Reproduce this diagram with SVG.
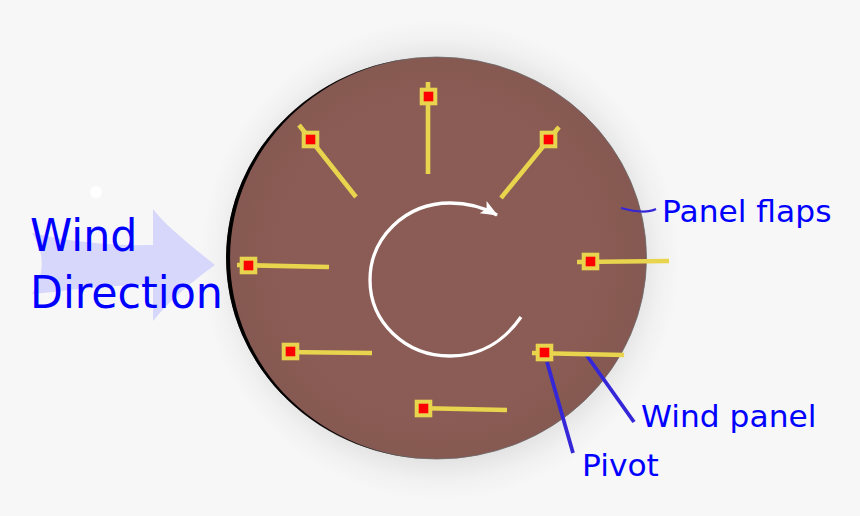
<svg xmlns="http://www.w3.org/2000/svg" width="860" height="516" viewBox="0 0 860 516">
<style>
.flap{fill:none;stroke:#e8d44d;stroke-width:4.600}
.pv{fill:#e8d44d;stroke:#e8d44d;stroke-width:.6}
.pc{fill:#f00;stroke:#f00;stroke-width:.6}
.lead{fill:none;stroke:#3526d8;stroke-width:3.800}
text{font-family:"DejaVu Sans",sans-serif;fill:#00f}
.lb{font-size:31px}
.big{font-size:44.400px}
</style>
<defs>
<radialGradient id="disc" gradientUnits="userSpaceOnUse" cx="436" cy="258" r="211">
<stop offset="0" stop-color="#8b5c55"/><stop offset=".75" stop-color="#8b5c55"/><stop offset=".92" stop-color="#865951"/><stop offset="1" stop-color="#855852"/>
</radialGradient>
<radialGradient id="halo" gradientUnits="userSpaceOnUse" cx="440" cy="260" r="240">
<stop offset=".82" stop-color="#e2e2e2"/><stop offset=".92" stop-color="#f1f1f1"/><stop offset="1" stop-color="#f7f7f7"/>
</radialGradient>
<marker id="ah" markerUnits="userSpaceOnUse" markerWidth="20" markerHeight="16" refX="16" refY="8" orient="auto"><path d="M0 1L17 8L0 15L4 8Z" fill="#fff"/></marker>
</defs>
<rect width="860" height="516" fill="#f7f7f7"/>
<circle cx="440" cy="260" r="240" fill="url(#halo)"/>
<circle cx="96" cy="192" r="6" fill="#fff"/>
<g id="wind-arrow"><path d="M32 233C70 242 115 246 153 245L153 209C165 225 190 245 215 265C190 283 168 302 153 321L153 285C115 284 70 290 32 294C45 275 45 252 32 233Z" fill="#d7d7fb"/></g>
<g id="disc-node">
<ellipse cx="436.500" cy="258" rx="210" ry="201" fill="url(#disc)" stroke="#6b6b6b" stroke-width=".8"/>
<path d="M437 57A211 201 0 0 0 437 459A207 201 0 0 1 437 57Z" fill="#000"/>
</g>
<g id="connectors">
<path d="M521 317C503 343 478 356 450 356C405 356 370 322 370 280C370 238 405 203 450 203C467 203 483 207 497 215" fill="none" stroke="#fff" stroke-width="3.300" marker-end="url(#ah)"/>
<path class="lead" style="stroke-width:2.200" d="M621 208C632 211 646 214 656 209"/>
<path class="lead" d="M585 353L634 422"/>
<path class="lead" d="M547 362L573 453"/>
</g>
<g id="flap-top"><path class="flap" d="M428 82V174"/><rect class="pv" x="420" y="88" width="17" height="17"/><rect class="pc" x="424" y="92" width="9" height="9"/></g>
<g id="flap-top-left"><path class="flap" d="M299 125L356 197"/><rect class="pv" x="302" y="131" width="17" height="17"/><rect class="pc" x="306" y="135" width="9" height="9"/></g>
<g id="flap-top-right"><path class="flap" d="M559 127L501 198"/><rect class="pv" x="540" y="131" width="17" height="17"/><rect class="pc" x="544" y="135" width="9" height="9"/></g>
<g id="flap-left"><path class="flap" d="M237 265L329 267"/><rect class="pv" x="240" y="257" width="17" height="17"/><rect class="pc" x="244" y="261" width="9" height="9"/></g>
<g id="flap-right"><path class="flap" d="M577 262L669 261"/><rect class="pv" x="582" y="253" width="17" height="17"/><rect class="pc" x="586" y="257" width="9" height="9"/></g>
<g id="flap-lower-left"><path class="flap" d="M282 352L372 353"/><rect class="pv" x="282" y="343" width="17" height="17"/><rect class="pc" x="286" y="347" width="9" height="9"/></g>
<g id="flap-lower-right"><path class="flap" d="M532 353L624 355"/><rect class="pv" x="536" y="344" width="17" height="17"/><rect class="pc" x="540" y="348" width="9" height="9"/></g>
<g id="flap-bottom"><path class="flap" d="M415 408L507 410"/><rect class="pv" x="415" y="400" width="17" height="17"/><rect class="pc" x="419" y="404" width="9" height="9"/></g>
<g id="labels">
<text class="big" transform="translate(30 251) scale(.962 1)">Wind</text>
<text class="big" transform="translate(30 308) scale(.962 1)">Direction</text>
<text class="lb" transform="translate(662 222) scale(1.01 1)">Panel flaps</text>
<text class="lb" transform="translate(641 427) scale(1.01 1)">Wind panel</text>
<text class="lb" transform="translate(582 476) scale(1.01 1)">Pivot</text>
</g>
</svg>
